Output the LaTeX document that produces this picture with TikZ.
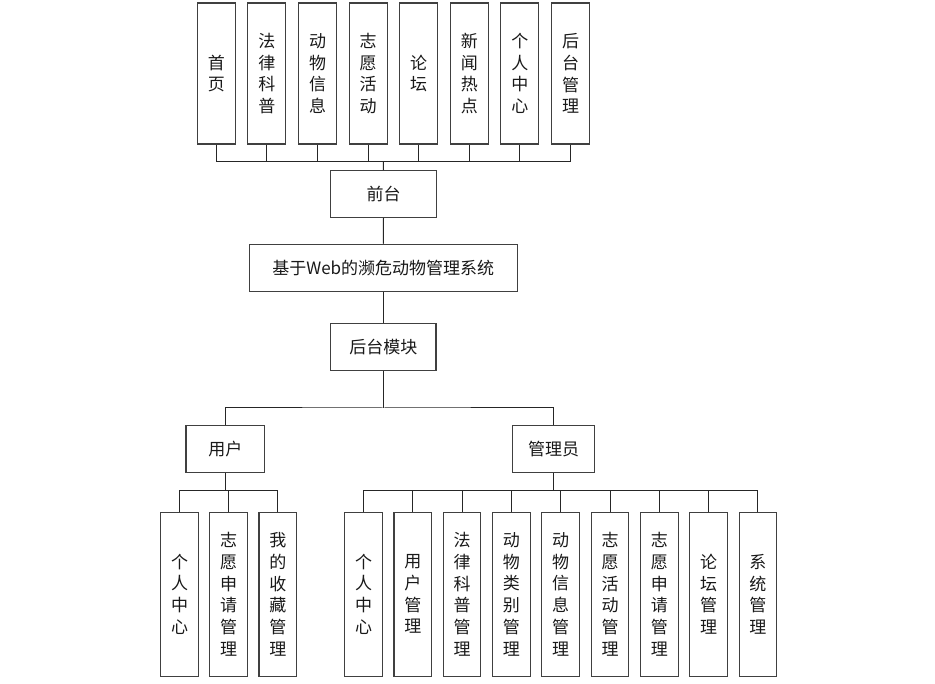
\documentclass[tikz,border=0pt]{standalone}
\usepackage{fontspec}
\newfontfamily\cjk{Noto Sans CJK SC}
\begin{document}
\begin{tikzpicture}[x=1pt,y=-1pt,
  bx/.style={draw=black!75,line width=1.1pt,inner sep=0pt,align=center,
    font=\cjk\fontsize{17}{21.7}\selectfont,text=black!90},
  tall/.style={bx,minimum width=38pt,minimum height=141pt},
  low/.style={bx,minimum width=37.6pt,minimum height=163.7pt},
  wire/.style={draw=black!85,line width=1pt}]
\useasboundingbox[fill=white] (0,0) rectangle (935,684);
% top row
\foreach \t [count=\i from 0] in {{首\\页},{法\\律\\科\\普},{动\\物\\信\\息},{志\\愿\\活\\动},{论\\坛},{新\\闻\\热\\点},{个\\人\\中\\心},{后\\台\\管\\理}}
  \node[tall] (t\i) at (216.3+50.6*\i,73.5) {\t};
\node[bx,minimum width=105.6pt,minimum height=46.6pt] (qt) at (383.5,194) {前台};
\node[bx,minimum width=268pt,minimum height=47pt] (sys) at (383.3,267.8) {基于Web的濒危动物管理系统};
\node[bx,minimum width=105.3pt,minimum height=47pt] (ht) at (383.3,347.2) {后台模块};
\node[bx,minimum width=78.7pt,minimum height=47pt] (yh) at (225.3,449.2) {用户};
\node[bx,minimum width=82pt,minimum height=47pt] (gly) at (553.7,449.2) {管理员};
% user subs
\node[low] (u0) at (179.5,594.2) {个\\人\\中\\心};
\node[low] (u1) at (228.5,594.2) {志\\愿\\申\\请\\管\\理};
\node[low] (u2) at (277.8,594.2) {我\\的\\收\\藏\\管\\理};
% admin subs
\foreach \t [count=\i from 0] in {{个\\人\\中\\心},{用\\户\\管\\理},{法\\律\\科\\普\\管\\理},{动\\物\\类\\别\\管\\理},{动\\物\\信\\息\\管\\理},{志\\愿\\活\\动\\管\\理},{志\\愿\\申\\请\\管\\理},{论\\坛\\管\\理},{系\\统\\管\\理}}
  \node[low] (a\i) at (363.5+49.3*\i,594.2) {\t};
% bus coordinates
\coordinate (b1) at (383.3,162);
\coordinate (b2) at (383.3,408);
\coordinate (b3) at (225.3,490.3);
\coordinate (b4) at (553.7,490.3);
% top connectors
\foreach \i in {0,...,7} \draw[wire] (t\i.south) -- (t\i.south |- b1);
\draw[wire] (t0.south |- b1) -- (t7.south |- b1);
\draw[wire] (b1) -- (qt.north);
\draw[wire] (qt.south) -- (sys.north);
\draw[wire] (sys.south) -- (ht.north);
% middle
\draw[wire] (ht.south) -- (b2);
\draw[wire] (yh.north) |- (b2) -| (gly.north);
% user subtree
\draw[wire] (yh.south) -- (b3);
\draw[wire] (u0.north) |- (b3) -| (u2.north);
\draw[wire] (u1.north) -- (u1.north |- b3);
% admin subtree
\draw[wire] (gly.south) -- (b4);
\draw[wire] (a0.north) |- (b4) -| (a8.north);
\foreach \i in {1,...,7} \draw[wire] (a\i.north) -- (a\i.north |- b4);
\end{tikzpicture}
\end{document}
